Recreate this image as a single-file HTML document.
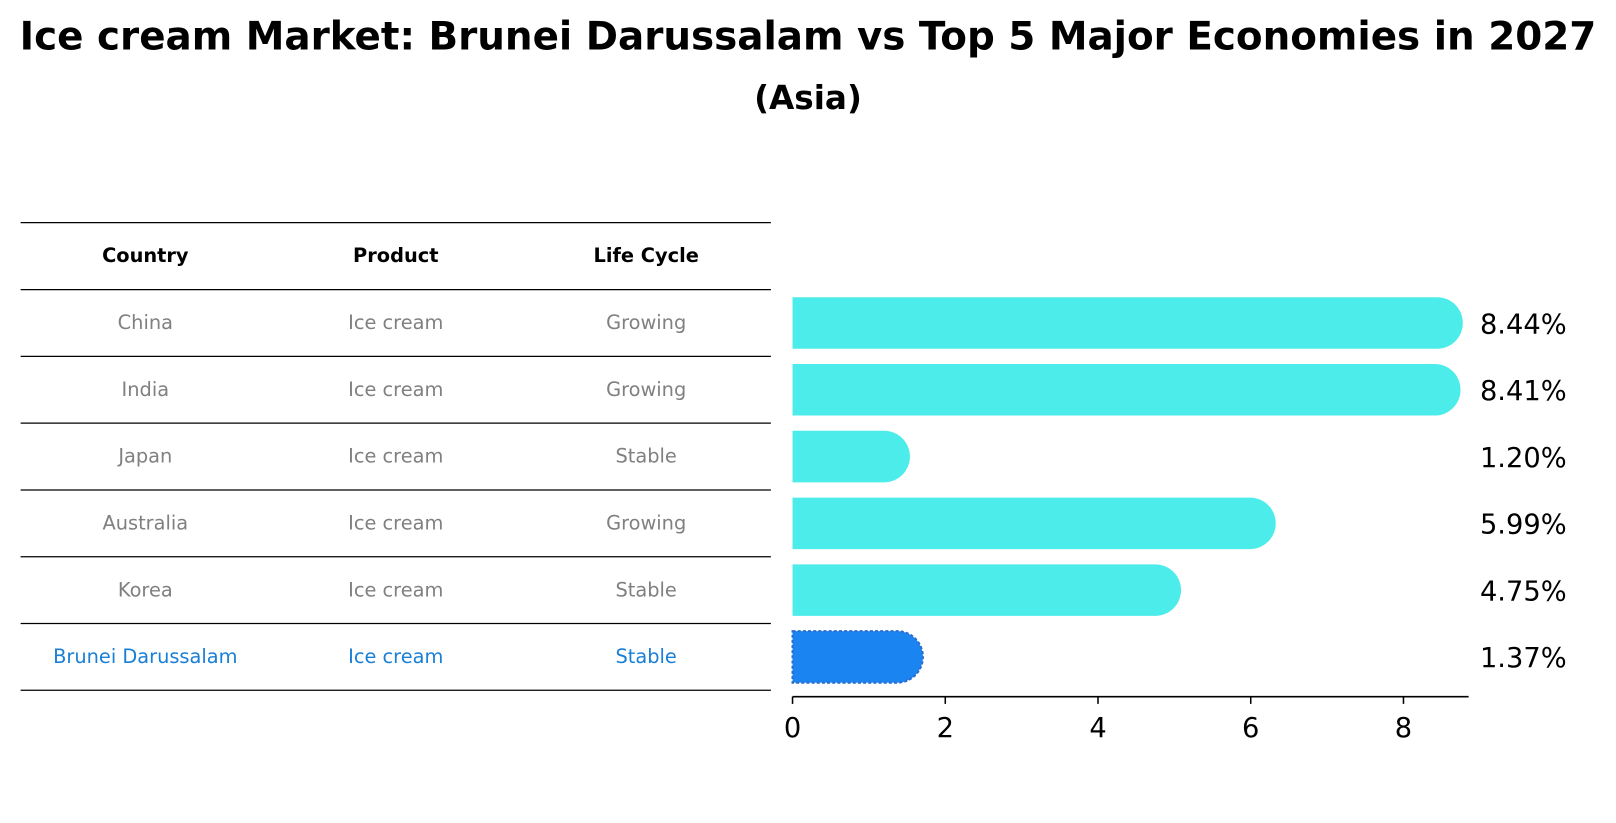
<!DOCTYPE html>
<html><head><meta charset="utf-8"><style>
body{margin:0;background:#fff;font-family:"Liberation Sans","DejaVu Sans",sans-serif;overflow:hidden;}
#root{position:relative;width:1568px;height:799px;overflow:visible;transform:scale(1.0306);transform-origin:0 0;}
.t{position:absolute;white-space:nowrap;}
</style></head><body><div id="root">
<div class="t" style="left:0;width:1568px;text-align:center;top:13px;font-size:37.7px;font-weight:bold;font-family:'DejaVu Sans',sans-serif;">Ice cream Market: Brunei Darussalam vs Top 5 Major Economies in 2027</div>
<div class="t" style="left:0;width:1568px;text-align:center;top:78px;font-size:31.7px;font-weight:bold;font-family:'DejaVu Sans',sans-serif;">(Asia)</div>
<svg id="svg" width="1568" height="799" style="position:absolute;left:0;top:0"></svg>
</div>
<script>
const countries=["China","India","Japan","Australia","Korea","Brunei Darussalam"];
const products=["Ice cream","Ice cream","Ice cream","Ice cream","Ice cream","Ice cream"];
const lifeCycles=["Growing","Growing","Stable","Growing","Stable","Stable"];
const values=[8.44,8.41,1.20,5.99,4.75,1.37];
const ticks=[0,2,4,6,8];
const NS="http://www.w3.org/2000/svg";
const svg=document.getElementById("svg");
function mk(t,a,txt){const e=document.createElementNS(NS,t);for(const k in a)e.setAttribute(k,a[k]);if(txt!=null)e.textContent=txt;svg.appendChild(e);return e;}
const x0=769,ppu=74.1;
const xs=v=>x0+v*ppu;
const rowTop=281,rowH=64.8;
const yc=i=>rowTop+rowH*i+rowH/2+3;
const FF="'DejaVu Sans',sans-serif";
for(let i=0;i<=7;i++){const y=i==0?216:281+rowH*(i-1);
const l=mk("line",{x1:20,x2:748,y1:y,y2:y,stroke:"#000","stroke-width":1.2});

}
const colX=[141,384,627];
["Country","Product","Life Cycle"].forEach((h,j)=>{
const t=mk("text",{x:colX[j],y:254,"text-anchor":"middle","font-size":18.8,"font-weight":"bold","font-family":FF},h);

});
countries.forEach((c,i)=>{
const last=i==countries.length-1;const col=last?"#1a7fd6":"#808080";
[c,products[i],lifeCycles[i]].forEach((v,j)=>{
const t=mk("text",{x:colX[j],y:rowTop+rowH*i+rowH/2+6,"text-anchor":"middle","font-size":18.8,fill:col,"font-family":FF},v);

});
const h=50,r=25,xe=xs(values[i]),y=yc(i)-h/2-3;
const d=`M${x0},${y} H${xe} A${r},${r} 0 0 1 ${xe},${y+h} H${x0} Z`;
const b=mk("path",{d:d,fill:last?"#1a85f0":"#4bece9",stroke:last?"#2a6fd0":"none","stroke-width":last?2:0,"stroke-dasharray":last?"3,2":"none"});


const lt=mk("text",{x:1436,y:yc(i)+7,"font-size":26.5,"font-family":FF},values[i].toFixed(2)+"%");


});
const ax=mk("line",{x1:x0,x2:1425,y1:676,y2:676,stroke:"#000","stroke-width":1.5});


ticks.forEach(v=>{
const tl=mk("line",{x1:xs(v),x2:xs(v),y1:676,y2:683,stroke:"#000","stroke-width":1.5});


const tt=mk("text",{x:xs(v),y:715,"text-anchor":"middle","font-size":26.5,"font-family":FF},String(v));

});
</script></body></html>
